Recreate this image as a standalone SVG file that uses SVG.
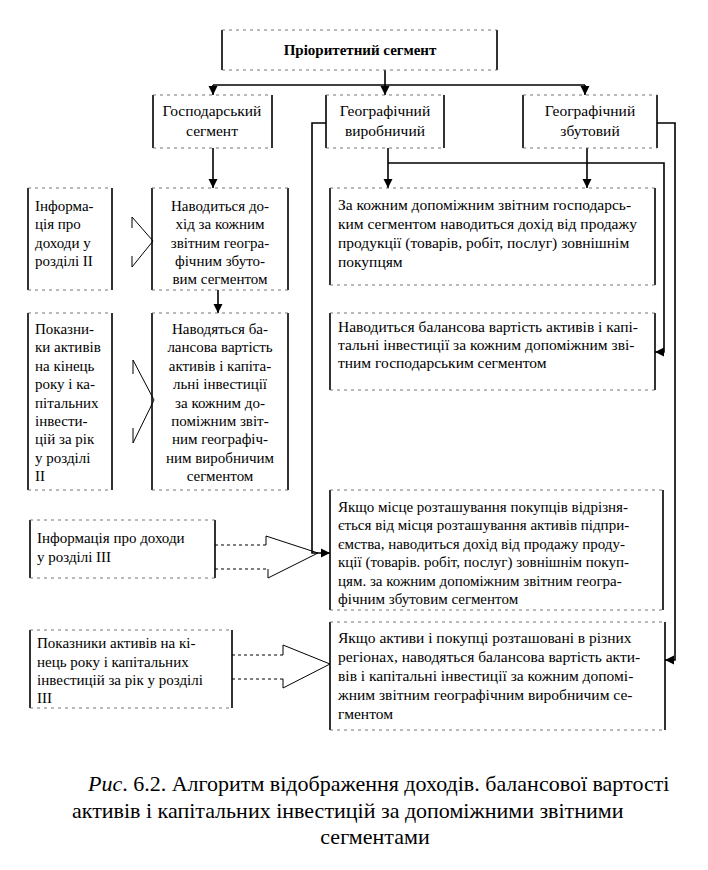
<svg xmlns="http://www.w3.org/2000/svg" width="708" height="870" viewBox="0 0 708 870">
<defs>
<marker id="arr" markerWidth="10" markerHeight="10" refX="9" refY="5" orient="auto" markerUnits="userSpaceOnUse">
<path d="M0,0.5 L9,5 L0,9.5 Z" fill="#000"/>
</marker>
<style>
.v{stroke:#000;stroke-width:1.6;fill:none}
.h{stroke:#666;stroke-width:0.9;stroke-dasharray:3 4;fill:none}
.c{stroke:#000;stroke-width:1.6;fill:none}
.o{stroke:#000;stroke-width:1;fill:none}
.od{stroke:#000;stroke-width:1;stroke-dasharray:3 3;fill:none}
text{font-family:"Liberation Serif","Times New Roman",serif;font-size:15px;fill:#000}
.m{text-anchor:middle}
.b{font-weight:bold;font-size:15px}
.r{font-size:15.5px}
.t{font-size:15.5px}
.cap{font-size:22px}
</style>
</defs>
<rect width="708" height="870" fill="#fff"/>

<g id="connectors">
<path class="c" d="M385 70 V95" marker-end="url(#arr)"/>
<path class="c" d="M213 85 H585"/>
<path class="c" d="M213 85 V95" marker-end="url(#arr)"/>
<path class="c" d="M585 85 V95" marker-end="url(#arr)"/>
<path class="c" d="M213 148 V188" marker-end="url(#arr)"/>
<path class="c" d="M218 290 V313" marker-end="url(#arr)"/>
<path class="c" d="M326 123 H312 V553 H330" marker-end="url(#arr)"/>
<path class="c" d="M388 148 V188" marker-end="url(#arr)"/>
<path class="c" d="M388 163 H664 V352 H655" marker-end="url(#arr)"/>
<path class="c" d="M587 148 V188" marker-end="url(#arr)"/>
<path class="c" d="M657 123 H675 V660 H665" marker-end="url(#arr)"/>
<path class="o" d="M132 217 L153 241 L132 267 M132 217 V228 M132 256 V267"/>
<path class="o" d="M133 360 L154 400 L133 443 M133 360 V374 M133 428 V443"/>
<path class="od" d="M215 545 H266 M215 569 H268"/>
<path class="o" d="M266 545 V536 L318 553 L268 578 V569"/>
<path class="od" d="M232 655 H283 M232 679 H283"/>
<path class="o" d="M283 655 V645 L330 664 L283 688 V679"/>
</g>

<g id="top">
<path class="v" d="M222 30 V70 M497 30 V70"/>
<path class="h" d="M222 30 H497 M222 70 H497"/>
<text class="m b" x="360" y="55">Пріоритетний сегмент</text>
</g>

<g id="gospodarskyi">
<path class="v" d="M153 95 V148 M272 95 V148"/>
<path class="h" d="M153 95 H272 M153 148 H272"/>
<text class="m t" x="212" y="116">Господарський</text>
<text class="m t" x="212" y="136">сегмент</text>
</g>

<g id="heo-vyrobnychyi">
<path class="v" d="M326 95 V148 M444 95 V148"/>
<path class="h" d="M326 95 H444 M326 148 H444"/>
<text class="m t" x="385" y="116">Географічний</text>
<text class="m t" x="385" y="136">виробничий</text>
</g>

<g id="heo-zbutovyi">
<path class="v" d="M523 95 V148 M657 95 V148"/>
<path class="h" d="M523 95 H657 M523 148 H657"/>
<text class="m t" x="590" y="116">Географічний</text>
<text class="m t" x="590" y="136">збутовий</text>
</g>

<g id="info-II">
<path class="v" d="M28 188 V290 M112 188 V290"/>
<path class="h" d="M28 188 H112 M28 290 H112"/>
<text x="35" y="211">Інформа-</text>
<text x="35" y="229">ція про</text>
<text x="35" y="248">доходи у</text>
<text x="35" y="266">розділі II</text>
</g>

<g id="dokhid-zbut">
<path class="v" d="M152 188 V290 M288 188 V290"/>
<path class="h" d="M152 188 H288 M152 290 H288"/>
<text class="m" x="220" y="211">Наводиться до-</text>
<text class="m" x="220" y="229">хід за кожним</text>
<text class="m" x="220" y="248">звітним геогра-</text>
<text class="m" x="220" y="266">фічним збуто-</text>
<text class="m" x="220" y="284">вим сегментом</text>
</g>

<g id="pokaznyky-II">
<path class="v" d="M28 313 V490 M112 313 V490"/>
<path class="h" d="M28 313 H112 M28 490 H112"/>
<text x="35" y="334">Показни-</text>
<text x="35" y="352">ки активів</text>
<text x="35" y="371">на кінець</text>
<text x="35" y="389">року і ка-</text>
<text x="35" y="408">пітальних</text>
<text x="35" y="426">інвести-</text>
<text x="35" y="444">цій за рік</text>
<text x="35" y="463">у розділі</text>
<text x="35" y="481">II</text>
</g>

<g id="balans-vyrob">
<path class="v" d="M152 313 V490 M288 313 V490"/>
<path class="h" d="M152 313 H288 M152 490 H288"/>
<text class="m" x="220" y="334">Наводяться ба-</text>
<text class="m" x="220" y="352">лансова вартість</text>
<text class="m" x="220" y="371">активів і капіта-</text>
<text class="m" x="220" y="389">льні інвестиції</text>
<text class="m" x="220" y="408">за кожним до-</text>
<text class="m" x="220" y="426">поміжним звіт-</text>
<text class="m" x="220" y="444">ним географіч-</text>
<text class="m" x="220" y="463">ним виробничим</text>
<text class="m" x="220" y="481">сегментом</text>
</g>

<g id="dokhid-gosp">
<path class="v" d="M330 188 V285 M655 188 V285"/>
<path class="h" d="M330 188 H655 M330 285 H655"/>
<text class="r" x="338" y="210">За кожним допоміжним звітним господарсь-</text>
<text class="r" x="338" y="229">ким сегментом наводиться дохід від продажу</text>
<text class="r" x="338" y="248">продукції (товарів, робіт, послуг) зовнішнім</text>
<text class="r" x="338" y="267">покупцям</text>
</g>

<g id="balans-gosp">
<path class="v" d="M330 313 V390 M655 313 V390"/>
<path class="h" d="M330 313 H655 M330 390 H655"/>
<text class="r" x="338" y="332">Наводиться балансова вартість активів і капі-</text>
<text class="r" x="338" y="350">тальні інвестиції за кожним допоміжним зві-</text>
<text class="r" x="338" y="368">тним господарським сегментом</text>
</g>

<g id="info-III">
<path class="v" d="M30 520 V578 M215 520 V578"/>
<path class="h" d="M30 520 H215 M30 578 H215"/>
<text x="37" y="543">Інформація про доходи</text>
<text x="37" y="562">у розділі III</text>
</g>

<g id="dokhid-zbut-geo">
<path class="v" d="M330 490 V610 M663 490 V610"/>
<path class="h" d="M330 490 H663 M330 610 H663"/>
<text x="338" y="512">Якщо місце розташування покупців відрізня-</text>
<text x="338" y="530">ється від місця розташування активів підпри-</text>
<text x="338" y="549">ємства, наводиться дохід від продажу проду-</text>
<text x="338" y="567">кції (товарів. робіт, послуг) зовнішнім покуп-</text>
<text x="338" y="586">цям. за кожним допоміжним звітним геогра-</text>
<text x="338" y="604">фічним збутовим сегментом</text>
</g>

<g id="pokaznyky-III">
<path class="v" d="M30 630 V708 M232 630 V708"/>
<path class="h" d="M30 630 H232 M30 708 H232"/>
<text x="37" y="648">Показники активів на кі-</text>
<text x="37" y="667">нець року і капітальних</text>
<text x="37" y="685">інвестицій за рік у розділі</text>
<text x="37" y="703">III</text>
</g>

<g id="balans-vyrob-geo">
<path class="v" d="M330 622 V730 M665 622 V730"/>
<path class="h" d="M330 622 H665 M330 730 H665"/>
<text class="r" x="338" y="643">Якщо активи і покупці розташовані в різних</text>
<text class="r" x="338" y="662">регіонах, наводяться балансова вартість акти-</text>
<text class="r" x="338" y="681">вів і капітальні інвестиції за кожним допомі-</text>
<text class="r" x="338" y="700">жним звітним географічним виробничим се-</text>
<text class="r" x="338" y="719">гментом</text>
</g>

<g id="caption">
<text class="cap" x="88" y="791"><tspan font-style="italic">Рис</tspan>. 6.2. Алгоритм відображення доходів. балансової вартості</text>
<text class="cap" x="72" y="818">активів і капітальних інвестицій за допоміжними звітними</text>
<text class="cap m" x="375" y="844">сегментами</text>
</g>
</svg>
